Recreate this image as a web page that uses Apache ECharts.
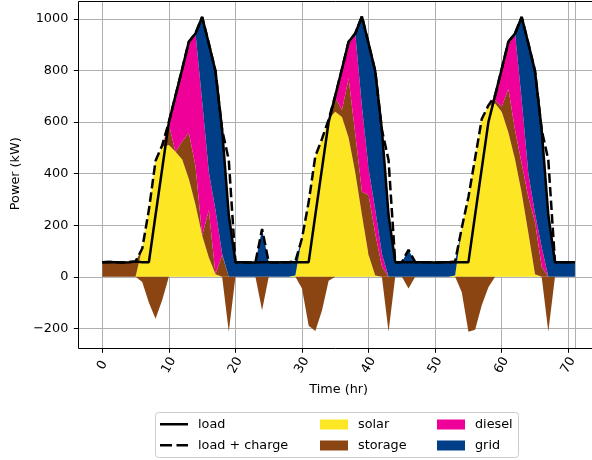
<!DOCTYPE html>
<html>
<head>
<meta charset="utf-8">
<script src="https://cdn.jsdelivr.net/npm/echarts@6/dist/echarts.min.js"></script>
<style>
  html, body { margin: 0; padding: 0; background: #fff; }
  #chart { width: 592px; height: 460px; }
</style>
</head>
<body>
<div id="chart"></div>
<script>
// ---- data (hour 0..71) ----
const load = [
  57,58,57,56,57,60,57,57,240,420,600,703,806,912,944,1008,905,798,570,240,57,57,56,56,
  57,57,56,57,57,57,57,57,240,420,600,703,806,912,944,1010,905,798,570,240,57,57,57,57,
  57,57,56,57,57,57,57,57,240,420,600,703,806,912,944,1008,905,798,570,240,57,57,57,57
];
const loadCharge = [
  57,58,57,56,57,60,110,260,450,510,600,703,806,912,944,1008,905,798,570,453,57,57,56,56,
  186,57,56,57,57,60,150,290,468,535,610,703,806,912,944,1010,905,798,570,453,57,57,105,57,
  57,57,56,57,57,60,190,310,460,612,665,703,806,912,944,1008,905,798,570,453,57,57,57,57
];
const solar = [
  0,0,0,0,0,0,110,260,450,505,511,485,455,380,280,160,75,10,0,0,0,0,0,0,
  0,0,0,0,0,5,150,290,465,535,612,640,620,540,405,240,85,5,0,0,0,0,0,0,
  0,0,0,0,0,5,188,308,458,610,662,672,640,560,455,325,170,10,0,0,0,0,0,0
];
const storage = [
  57,58,57,56,57,60,-20,-100,-162,-90,80,0,70,179,150,0,184,0,85,-213,0,0,0,0,
  -129,0,0,0,0,0,-45,-190,-210,-130,-15,55,27,230,150,90,232,163,40,-213,0,0,-45,0,
  0,0,0,0,0,0,-60,-213,-205,-110,-40,14,20,170,115,115,140,203,40,-213,0,0,0,0
];
const diesel = [
  0,0,0,0,0,0,0,0,0,0,9,218,281,353,514,520,148,249,5,0,0,0,0,0,
  0,0,0,0,0,0,0,0,0,0,0,8,159,142,389,330,103,92,50,0,0,0,0,0,
  0,0,0,0,0,0,0,0,0,0,0,17,146,182,374,246,91,33,76,0,0,0,0,0
];
const grid = [
  0,0,0,0,0,0,0,0,0,0,0,0,0,0,0,328,498,539,480,240,57,57,56,56,
  186,57,56,57,57,57,0,0,0,0,0,0,0,0,0,350,485,538,480,240,57,57,105,57,
  57,57,56,57,57,57,0,0,0,0,0,0,0,0,0,322,504,552,454,240,57,57,57,57
];
const xTickStep = 10;   // ticks 0..70
const yTickStep = 200;  // ticks -200..1000

const hours = load.map((_, i) => i);
// [value, hour] so that stacking acts on the value dimension
const pts = arr => arr.map((v, i) => [v, hours[i]]);
const storagePos = storage.map(v => Math.max(v, 0));
const storageNeg = storage.map(v => Math.min(v, 0));

const FONT = 'DejaVu Sans';
const FS = 12.8;
const C = { solar: '#FDE725', storage: '#8B4513', diesel: '#EE0099', grid: '#003F88' };

function areaSeries(name, data, color, stack) {
  return {
    name, type: 'line', data: pts(data), encode: { x: 1, y: 0 }, stack: stack,
    xAxisIndex: 0, yAxisIndex: 0,
    symbol: 'none', smooth: false, clip: false,
    lineStyle: { width: 0, color: color },
    itemStyle: { color: color },
    areaStyle: { color: color, opacity: 1 },
    emphasis: { disabled: true }, z: 2
  };
}

const chart = echarts.init(document.getElementById('chart'), null, { renderer: 'canvas' });
const legendCommon = {
  orient: 'vertical', itemWidth: 28, itemHeight: 10, itemGap: 8, padding: 0,
  selectedMode: false,
  textStyle: { fontFamily: FONT, fontSize: FS, color: '#000', padding: [0, 0, 0, 5] }
};
const noBorder = c => ({ color: c, borderWidth: 0 });
chart.setOption({
  animation: false,
  backgroundColor: '#fff',
  textStyle: { fontFamily: FONT },
  grid: [
    { left: 102.3, top: 2, width: 472.65, height: 346.3 },     // data grid (hours 0..71)
    { left: 78.3, top: 19.02, width: 520.3, height: 309.43 }   // y ticks grid (-200..1000)
  ],
  xAxis: [{
    gridIndex: 0, type: 'value', min: 0, max: 71, interval: xTickStep,
    name: 'Time (hr)', nameLocation: 'middle', nameGap: 27,
    nameTextStyle: { fontFamily: FONT, fontSize: FS, color: '#000' },
    axisLine: { show: false, onZero: false },
    axisTick: { show: true, length: 4.5, inside: false, lineStyle: { color: '#000', width: 1 } },
    axisLabel: {
      rotate: 60, align: 'center', verticalAlign: 'middle', margin: 17,
      fontFamily: FONT, fontSize: FS, color: '#000', showMaxLabel: false,
      formatter: v => (v % xTickStep === 0 ? String(v) : '')
    },
    splitLine: { show: true, lineStyle: { color: '#b0b0b0', width: 1 } }
  }, {
    gridIndex: 1, type: 'value', min: 0, max: 1, show: false,
    axisLine: { onZero: false }, splitLine: { show: false }
  }],
  yAxis: [{
    gridIndex: 0, type: 'value', min: -277, max: 1066, show: false,
    axisLine: { onZero: false }, splitLine: { show: false }
  }, {
    gridIndex: 1, type: 'value', min: -200, max: 1000, interval: yTickStep,
    name: 'Power (kW)', nameLocation: 'middle', nameGap: 45,
    nameTextStyle: { fontFamily: FONT, fontSize: FS, color: '#000' },
    axisLine: { show: false, onZero: false },
    axisTick: { show: true, length: 4.5, inside: false, lineStyle: { color: '#000', width: 1 } },
    axisLabel: {
      margin: 10, fontFamily: FONT, fontSize: FS, color: '#000',
      formatter: v => String(v).replace('-', '\u2212')
    },
    splitLine: { show: true, lineStyle: { color: '#b0b0b0', width: 1 } }
  }],
  legend: [
    Object.assign({}, legendCommon, { left: 160, top: 417.75, itemHeight: 2.5,
      data: [
        { name: 'load', icon: 'rect', itemStyle: noBorder('#000') },
        { name: 'load + charge', icon: 'path://M0,0H12V2.5H0Z M16.5,0H28V2.5H16.5Z', itemStyle: noBorder('#000') }
      ] }),
    Object.assign({}, legendCommon, { left: 320, top: 418,
      data: [
        { name: 'solar', icon: 'rect', itemStyle: noBorder(C.solar) },
        { name: 'storage', icon: 'rect', itemStyle: noBorder(C.storage) }
      ] }),
    Object.assign({}, legendCommon, { left: 437, top: 418,
      data: [
        { name: 'diesel', icon: 'rect', itemStyle: noBorder(C.diesel) },
        { name: 'grid', icon: 'rect', itemStyle: noBorder(C.grid) }
      ] })
  ],
  graphic: [{
    type: 'rect', z: -1, silent: true,
    shape: { x: 155.5, y: 412.5, width: 363, height: 45, r: 3 },
    style: { fill: '#fff', stroke: '#cccccc', lineWidth: 1 }
  }, {
    type: 'rect', z: 100, silent: true,
    shape: { x: 78.5, y: 1.5, width: 521, height: 347 },
    style: { fill: 'none', stroke: '#000', lineWidth: 1 }
  }],
  series: [
    areaSeries('solar', solar, C.solar, 'pos'),
    areaSeries('storage', storagePos, C.storage, 'pos'),
    areaSeries('diesel', diesel, C.diesel, 'pos'),
    areaSeries('grid', grid, C.grid, 'pos'),
    areaSeries('storage', storageNeg, C.storage, 'neg'),
    {
      name: 'load', type: 'line', data: pts(load), encode: { x: 1, y: 0 },
      xAxisIndex: 0, yAxisIndex: 0, symbol: 'none', clip: false,
      lineStyle: { color: '#000', width: 2.5 }, itemStyle: { color: '#000' },
      emphasis: { disabled: true }, z: 5
    },
    {
      name: 'load + charge', type: 'line', data: pts(loadCharge), encode: { x: 1, y: 0 },
      xAxisIndex: 0, yAxisIndex: 0, symbol: 'none', clip: false,
      lineStyle: { color: '#000', width: 2.5, type: [9.5, 4.1] }, itemStyle: { color: '#000' },
      emphasis: { disabled: true }, z: 6
    }
  ]
});
</script>
</body>
</html>
